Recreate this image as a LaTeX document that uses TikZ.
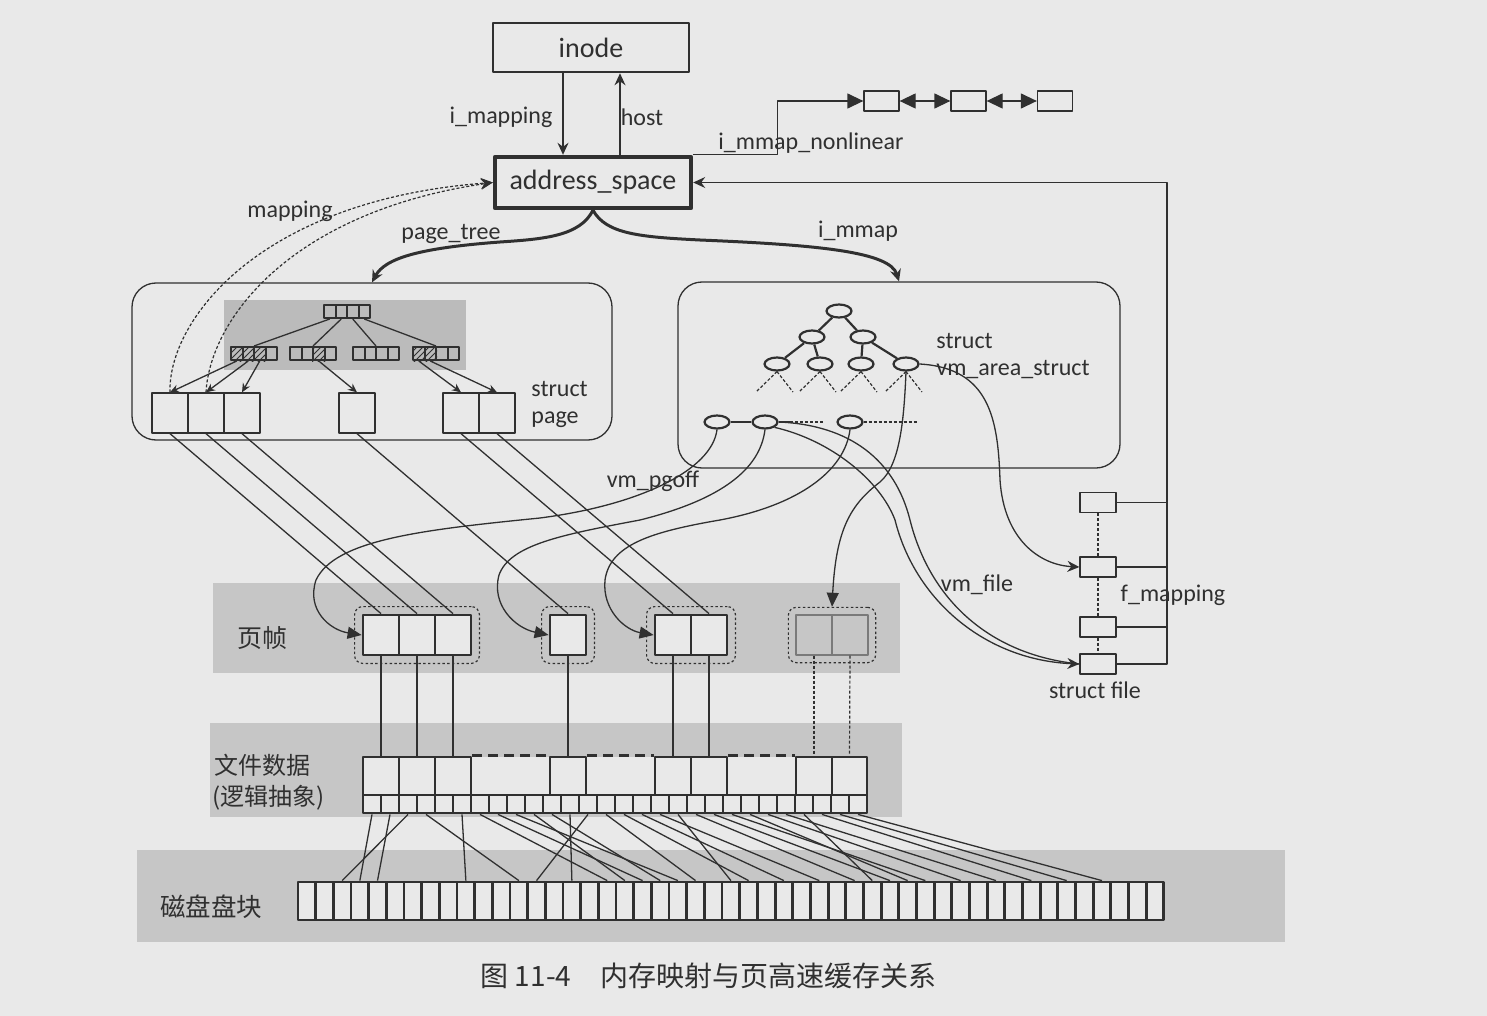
\documentclass[tikz,border=0pt]{standalone}
\usepackage{fontspec}
\setmainfont{Carlito}
\newfontfamily\cjk{Noto Sans CJK SC}
\usetikzlibrary{arrows.meta,shapes.geometric,patterns,fit,calc}
\definecolor{paper}{HTML}{E9E9E9}
\definecolor{band}{HTML}{C6C6C6}
\definecolor{radix}{HTML}{BBBBBB}
\definecolor{ink}{HTML}{303030}
\definecolor{dim}{HTML}{7A7A7A}
\begin{document}
\begin{tikzpicture}[x=0.5pt,y=-0.5pt, line join=round, draw=ink,
  every node/.style={text=ink},
  lbl/.style={font=\fontsize{12}{13.5}\selectfont, inner sep=0pt},
  cjklbl/.style={font=\cjk\fontsize{12.5}{15}\selectfont, inner sep=0pt},
  bigbox/.style={draw=ink, font=\fontsize{14}{16}\selectfont, minimum width=98pt, minimum height=24.5pt, inner sep=0pt},
  ln/.style={line width=0.65pt, draw=ink},
  thk/.style={line width=1.4pt, draw=ink},
  arr/.style={-{Stealth[length=6pt,width=5.5pt,inset=2pt]}},
  sarr/.style={-{Stealth[length=4.5pt,width=4pt,inset=1.5pt]}},
  tri/.style={-{Triangle[length=8pt,width=7.5pt]}},
  tritwo/.style={{Triangle[length=8pt,width=7.5pt]}-{Triangle[length=8pt,width=7.5pt]}},
  ftri/.style={-{Triangle[length=7pt,width=6pt]}},
  pg/.style={draw=ink, line width=0.65pt, minimum width=18pt, minimum height=20pt, inner sep=0pt},
  rcell/.style={draw=ink, line width=1pt, minimum width=5.75pt, minimum height=6.5pt, inner sep=0pt},
  vnode/.style={ellipse, draw=ink, line width=1.1pt, minimum width=12.5pt, minimum height=6.5pt, inner sep=0pt},
  lst/.style={draw=ink, line width=0.65pt, minimum width=17.5pt, minimum height=10pt, inner sep=0pt},
  sfbox/.style={draw=ink, line width=0.65pt, minimum width=18pt, minimum height=10pt, inner sep=0pt},
  fr/.style={draw=ink, fill=paper, line width=1.4pt, minimum width=18pt, minimum height=20pt, inner sep=0pt},
  frdim/.style={draw=dim, line width=0.65pt, minimum width=18pt, minimum height=20pt, inner sep=0pt},
  grp/.style={draw=ink, line width=0.6pt, dash pattern=on 1.2pt off 1.2pt, rounded corners=4pt, inner sep=3.5pt},
  fdc/.style={draw=ink, fill=paper, line width=1.4pt, minimum width=18pt, minimum height=19pt, inner sep=0pt},
  sc/.style={draw=ink, fill=paper, line width=1.4pt, minimum width=9pt, minimum height=9pt, inner sep=0pt},
  dc/.style={draw=ink, fill=paper, line width=1.4pt, minimum width=8.835pt, minimum height=19pt, inner sep=0pt},
  dotc/.style={line width=0.6pt, draw=ink, dash pattern=on 1.5pt off 1pt}
]
\useasboundingbox (0,0) rectangle (1487,1016);
\fill[paper] (0,0) rectangle (1487,1016);
% bands
\fill[band] (213,583) rectangle (900,673);
\fill[band] (210,723) rectangle (902,817);
\fill[band] (137,850) rectangle (1285,942);

% top boxes
\node[bigbox, line width=1.3pt] (inode) at (591,47.5) {inode};
\node[bigbox, line width=2.2pt, minimum height=25.5pt] (as) at (593,182.5) {address\_space};
\draw[ln, arr] ([xshift=-14pt]inode.south) -- ([xshift=-15pt]as.north);
\draw[ln, arr] ([xshift=13.5pt]as.north) -- ([xshift=14.5pt]inode.south);
\node[lbl] at (501,117) {i\_mapping};
\node[lbl] at (642,117) {host};

% nonlinear list
\node[lst] (l1) at (881.5,101) {};
\node[lst] (l2) at (968.5,101) {};
\node[lst] (l3) at (1055,101) {};
\draw[ln, tri] (as.north east) -- ++(84,0) |- (l1.west);
\draw[ln, tritwo] (l1.east) -- (l2.west);
\draw[ln, tritwo] (l2.east) -- (l3.west);
\node[lbl] at (811,143) {i\_mmap\_nonlinear};

% rounded containers
\node[draw=ink, line width=0.65pt, rounded corners=12pt, minimum width=240pt, minimum height=78.5pt] (pbox) at (372,361.5) {};
\node[draw=ink, line width=0.65pt, rounded corners=12pt, minimum width=221pt, minimum height=93pt] (vbox) at (899,375) {};
\fill[radix] (224,300) rectangle (466,370);

% page_tree and i_mmap
\draw[line width=1.5pt, draw=ink, arr] (as.south) .. controls (580,236) and (545,239) .. (500,242) .. controls (420,248) and (385,258) .. (pbox.north);
\draw[line width=1.5pt, draw=ink, arr] (as.south) .. controls (606,234) and (640,237) .. (700,240) .. controls (820,245) and (890,252) .. (vbox.north);
\node[lbl] at (451,234) {page\_tree};
\node[lbl] at (858,231) {i\_mmap};

% radix tree
\foreach \k in {0,...,3} {
  \node[rcell] (r\k) at ({329.75+11.5*\k},311.5) {};
  \node[rcell] (a\k) at ({236.75+11.5*\k},353.5) {};
  \node[rcell] (b\k) at ({295.75+11.5*\k},353.5) {};
  \node[rcell] (c\k) at ({358.75+11.5*\k},353.5) {};
  \node[rcell] (d\k) at ({418.75+11.5*\k},353.5) {};
}
\foreach \n in {a0,a1,a2,b2,d0,d1}
  \fill[pattern=north east lines, pattern color=ink] (\n.south west) rectangle (\n.north east);
\draw[ln] (r0.south) -- ($(a1.north)!0.5!(a2.north)$);
\draw[ln] (r1.south) -- ($(b1.north)!0.5!(b2.north)$);
\draw[ln] (r2.south) -- ($(c1.north)!0.5!(c2.north)$);
\draw[ln] (r3.south) -- ($(d1.north)!0.5!(d2.north)$);

% struct pages
\node[pg] (p1) at (170,413) {};
\node[pg] (p2) at (206,413) {};
\node[pg] (p3) at (242,413) {};
\node[pg] (p4) at (357,413) {};
\node[pg] (p5) at (461,413) {};
\node[pg] (p6) at (497,413) {};
\draw[ln, sarr] (a0.south) -- (p1.north);
\draw[ln, sarr] (a1.south) -- (p2.north);
\draw[ln, sarr] (a2.south) -- (p3.north);
\draw[ln, sarr] (b2.south) -- (p4.north);
\draw[ln, sarr] (d0.south) -- (p5.north);
\draw[ln, sarr] (d1.south) -- (p6.north);
\node[lbl, align=left, anchor=west] at (531,404) {struct\\page};

% mapping dotted curves
\draw[dotc, arr] (p1.north) .. controls (168,320) and (260,200) .. (as.west);
\draw[dotc, arr] (p2.north) .. controls (210,320) and (290,212) .. (as.west);
\node[lbl] at (290,211) {mapping};

% vm_area_struct tree
\node[vnode] (t0) at (839,311) {};
\node[vnode] (t1) at (812,337) {};
\node[vnode] (t2) at (863,337) {};
\node[vnode] (t3) at (777,364) {};
\node[vnode] (t4) at (820,364) {};
\node[vnode] (t5) at (861,364) {};
\node[vnode] (t6) at (906,364) {};
\draw[line width=1.1pt, draw=ink] (t0) -- (t1) (t0) -- (t2) (t1) -- (t3) (t1) -- (t4) (t2) -- (t5) (t2) -- (t6);
\foreach \n/\x in {t3/777,t4/820,t5/861,t6/906} {
  \coordinate (\n l) at ({\x-21},392);
  \coordinate (\n r) at ({\x+16},392);
  \draw[dotc] (\n.south) -- (\n l);
  \draw[dotc] (\n.south) -- (\n r);
}
\node[lbl, align=left, anchor=west] at (936,356) {struct\\vm\_area\_struct};
\node[vnode] (e1) at (717,422) {};
\node[vnode] (e2) at (765,422) {};
\node[vnode] (e3) at (850,422) {};
\coordinate (e2x) at (790,422);
\coordinate (e2y) at (823,422);
\coordinate (e3x) at (917,422);
\draw[ln] (e1) -- (e2) -- (e2x);
\draw[dotc] (e2x) -- (e2y);
\draw[dotc] (e3.east) -- (e3x);

% struct file boxes and rail
\node[sfbox] (sfa) at (1098,502.5) {};
\node[sfbox] (sfb) at (1098,567) {};
\node[sfbox] (sfc) at (1098,627) {};
\node[sfbox] (sfd) at (1098,664) {};
\coordinate (rtop) at (1167,182.5);
\draw[ln, arr] (sfd.east) -- (sfd.east -| rtop) -- (rtop) -- (as.east);
\foreach \s in {sfa,sfb,sfc} \draw[ln] (\s.east) -- (\s.east -| rtop);
\draw[dotc] (sfa.south) -- (sfb.north);
\draw[dotc] (sfb.south) -- (sfc.north);
\draw[dotc] (sfc.south) -- (sfd.north);
\node[lbl] at (1173,595) {f\_mapping};
\node[lbl] at (1095,690) {struct file};

% page frames
\node[fr] (f1a) at (381,635) {};
\node[fr] (f1b) at (417,635) {};
\node[fr] (f1c) at (453,635) {};
\node[fr] (f2) at (568,635) {};
\node[fr] (f3a) at (673,635) {};
\node[fr] (f3b) at (709,635) {};
\node[frdim] (f4a) at (814,635) {};
\node[frdim] (f4b) at (850,635) {};
\node[grp, fit=(f1a)(f1c)] (g1) {};
\node[grp, fit=(f2)] (g2) {};
\node[grp, fit=(f3a)(f3b)] (g3) {};
\node[grp, fit=(f4a)(f4b)] (g4) {};
\node[cjklbl] at (262,638) {页帧};

% struct page -> frame
\draw[ln] (p1.south) -- (f1a.north);
\draw[ln] (p2.south) -- (f1b.north);
\draw[ln] (p3.south) -- (f1c.north);
\draw[ln] (p4.south) -- (f2.north);
\draw[ln] (p5.south) -- (f3a.north);
\draw[ln] (p6.south) -- (f3b.north);

% vm_pgoff curves
\draw[ln, ftri] (e1.south) .. controls (712,470) and (640,505) .. (540,518) .. controls (420,530) and (335,540) .. (316,580) .. controls (306,610) and (330,630) .. (f1a.west);
\draw[ln, ftri] (e2.south) .. controls (760,470) and (720,500) .. (640,520) .. controls (560,535) and (510,545) .. (499,575) .. controls (491,605) and (515,628) .. (f2.west);
\draw[ln, ftri] (e3.south) .. controls (845,470) and (800,505) .. (720,520) .. controls (650,532) and (610,545) .. (605,580) .. controls (602,610) and (625,630) .. (f3a.west);
\node[lbl] at (653,481) {vm\_pgoff};

% vm_file curves
\draw[ln, ftri] (t6.south) .. controls (904,420) and (900,465) .. (880,482) .. controls (850,505) and (836,530) .. (g4.north);
\draw[ln, arr] (t6.east) .. controls (990,368) and (998,420) .. (1000,480) .. controls (1004,540) and (1040,565) .. (sfb.west);
\draw[ln] (e2.east) .. controls (850,425) and (895,460) .. (910,520) .. controls (930,600) and (990,655) .. (sfd.west);
\draw[ln, arr] (e2.south east) .. controls (830,440) and (880,480) .. (895,520) .. controls (915,600) and (985,660) .. (sfd.west);
\node[lbl] at (977,585) {vm\_file};

% file data
\fill[paper] (363,757) rectangle (867,813);
\node[fdc] (fd1a) at (381,776) {};
\node[fdc] (fd1b) at (417,776) {};
\node[fdc] (fd1c) at (453,776) {};
\node[fdc] (fd2) at (568,776) {};
\node[fdc] (fd3a) at (673,776) {};
\node[fdc] (fd3b) at (709,776) {};
\node[fdc] (fd4a) at (814,776) {};
\node[fdc, minimum width=17.5pt] (fd4b) at (849.5,776) {};
\draw[line width=1.4pt, draw=ink, dash pattern=on 5pt off 3pt] (fd1c.north east) -- (fd2.north west);
\draw[line width=1.4pt, draw=ink, dash pattern=on 5pt off 3pt] (fd2.north east) -- (fd3a.north west);
\draw[line width=1.4pt, draw=ink, dash pattern=on 5pt off 3pt] (fd3b.north east) -- (fd4a.north west);
\foreach \i in {0,...,27} \node[sc] (s\i) at ({372+18*\i},804) {};
\draw[ln] (f1a.south) -- (fd1a.north);
\draw[ln] (f1b.south) -- (fd1b.north);
\draw[ln] (f1c.south) -- (fd1c.north);
\draw[ln] (f2.south) -- (fd2.north);
\draw[ln] (f3a.south) -- (fd3a.north);
\draw[ln] (f3b.south) -- (fd3b.north);
\draw[dotc] (f4a.south) -- (fd4a.north);
\draw[dotc] (f4b.south) -- (fd4b.north);
\node[cjklbl, font=\cjk\fontsize{12}{14}\selectfont, anchor=west] at (214,765) {文件数据};
\node[cjklbl, font=\cjk\fontsize{12}{14}\selectfont, anchor=west] at (212,798) {(逻辑抽象)};

% disk blocks
\foreach \j in {0,...,48} \node[dc] (d\j) at ({306.835+17.67*\j},901) {};
\foreach \i/\j in {0/3,1/4,2/2,3/12,5/9,6/17,7/19,8/21,9/18,10/20,11/15,12/13,13/22,14/25,15/27,16/29,17/24,18/31,19/33,20/35,21/34,22/37,23/39,24/32,25/41,26/43,27/45}
  \draw[ln] (s\i.south) -- (d\j.north);
\node[cjklbl, font=\cjk\fontsize{12.75}{15}\selectfont] at (211,907) {磁盘盘块};

% caption
\node[font=\cjk\fontsize{14}{16}\selectfont, inner sep=0pt] at (526,976) {图 11-4};
\node[font=\cjk\fontsize{14}{16}\selectfont, inner sep=0pt] at (768,976) {内存映射与页高速缓存关系};
\end{tikzpicture}
\end{document}
